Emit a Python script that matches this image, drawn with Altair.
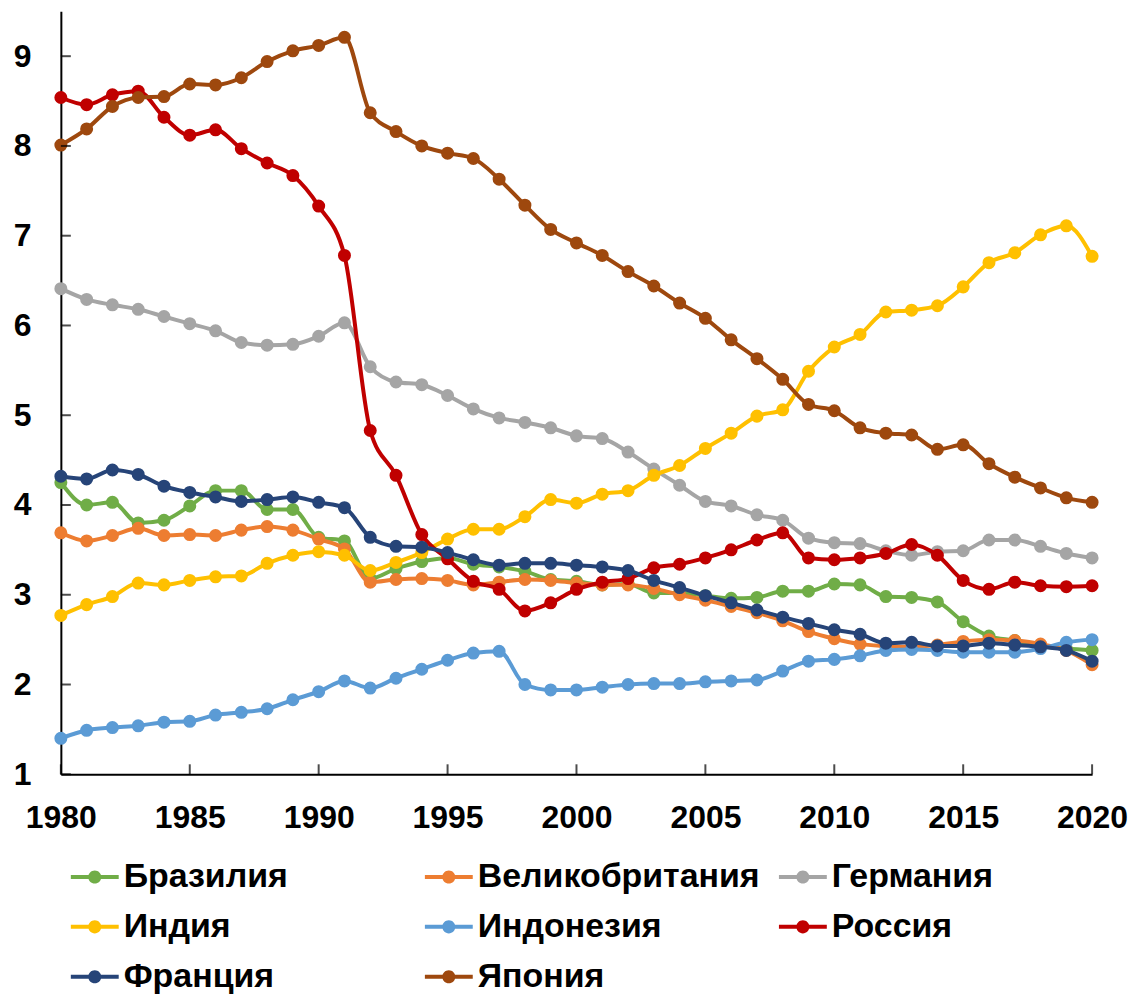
import altair as alt
import pandas as pd

years = list(range(1980, 2021))

series_names = ["Бразилия", "Великобритания", "Германия", "Индия",
                "Индонезия", "Россия", "Франция", "Япония"]
series_colors = ["#70AD47", "#ED7D31", "#A5A5A5", "#FFC000",
                 "#5B9BD5", "#C00000", "#264478", "#9E480E"]

brazil = [4.25, 4.00, 4.03, 3.80, 3.83, 3.99, 4.16, 4.16, 3.95, 3.95,
          3.64, 3.60, 3.18, 3.29, 3.37, 3.41, 3.34, 3.31, 3.26, 3.17,
          3.15, 3.11, 3.12, 3.02, 3.02, 2.99, 2.96, 2.97, 3.04, 3.04,
          3.12, 3.11, 2.98, 2.97, 2.92, 2.70, 2.54, 2.49, 2.43, 2.40, 2.38]
uk = [3.69, 3.60, 3.66, 3.74, 3.66, 3.67, 3.66, 3.72, 3.76, 3.72,
      3.62, 3.51, 3.14, 3.17, 3.18, 3.16, 3.11, 3.14, 3.17, 3.16,
      3.13, 3.11, 3.11, 3.07, 3.00, 2.94, 2.87, 2.80, 2.71, 2.59,
      2.51, 2.45, 2.43, 2.42, 2.44, 2.48, 2.50, 2.49, 2.45, 2.38, 2.22]
germany = [6.41, 6.29, 6.23, 6.18, 6.10, 6.02, 5.94, 5.81, 5.78, 5.79,
           5.88, 6.03, 5.54, 5.37, 5.34, 5.22, 5.07, 4.97, 4.92, 4.86,
           4.77, 4.74, 4.59, 4.40, 4.22, 4.04, 3.99, 3.89, 3.83, 3.63,
           3.58, 3.57, 3.49, 3.44, 3.48, 3.49, 3.61, 3.61, 3.54, 3.46, 3.41]
india = [2.77, 2.89, 2.98, 3.13, 3.11, 3.16, 3.20, 3.21, 3.35, 3.44,
         3.48, 3.44, 3.27, 3.36, 3.47, 3.62, 3.73, 3.73, 3.87, 4.06,
         4.02, 4.12, 4.16, 4.33, 4.44, 4.63, 4.80, 4.99, 5.06, 5.49,
         5.76, 5.90, 6.15, 6.17, 6.22, 6.43, 6.70, 6.81, 7.01, 7.11, 6.77]
indonesia = [1.40, 1.49, 1.52, 1.54, 1.58, 1.59, 1.66, 1.69, 1.73, 1.83,
             1.92, 2.04, 1.96, 2.07, 2.17, 2.27, 2.35, 2.37, 2.00, 1.94,
             1.94, 1.97, 2.00, 2.01, 2.01, 2.03, 2.04, 2.05, 2.15, 2.26,
             2.28, 2.32, 2.38, 2.39, 2.38, 2.36, 2.36, 2.36, 2.40, 2.47, 2.50]
russia = [8.54, 8.46, 8.57, 8.61, 8.32, 8.12, 8.18, 7.97, 7.81, 7.67,
          7.33, 6.78, 4.83, 4.33, 3.67, 3.40, 3.15, 3.06, 2.82, 2.91,
          3.06, 3.14, 3.18, 3.30, 3.34, 3.41, 3.50, 3.61, 3.69, 3.41,
          3.39, 3.41, 3.46, 3.56, 3.44, 3.16, 3.06, 3.14, 3.10, 3.09, 3.10]
france = [4.32, 4.29, 4.39, 4.34, 4.21, 4.14, 4.09, 4.04, 4.06, 4.09,
          4.03, 3.97, 3.64, 3.54, 3.53, 3.47, 3.39, 3.33, 3.35, 3.35,
          3.33, 3.31, 3.27, 3.16, 3.08, 2.99, 2.91, 2.83, 2.75, 2.68,
          2.61, 2.56, 2.46, 2.47, 2.43, 2.43, 2.46, 2.44, 2.42, 2.38, 2.26]
japan = [8.01, 8.19, 8.44, 8.54, 8.55, 8.69, 8.68, 8.76, 8.94, 9.06,
         9.12, 9.21, 8.37, 8.16, 8.00, 7.92, 7.86, 7.63, 7.34, 7.07,
         6.92, 6.78, 6.60, 6.44, 6.25, 6.08, 5.84, 5.63, 5.40, 5.12,
         5.05, 4.86, 4.80, 4.78, 4.62, 4.67, 4.46, 4.31, 4.19, 4.08, 4.03]

x_ticks = [1980, 1985, 1990, 1995, 2000, 2005, 2010, 2015, 2020]
y_ticks = [1, 2, 3, 4, 5, 6, 7, 8, 9]

all_series = [brazil, uk, germany, india, indonesia, russia, france, japan]
rows = []
for name, vals in zip(series_names, all_series):
    for yr, v in zip(years, vals):
        rows.append({"year": yr, "value": v, "country": name})
df = pd.DataFrame(rows)

FONT = "Liberation Sans"

x_scale = alt.Scale(domain=[1980, 2020], nice=False, zero=False)
y_scale = alt.Scale(domain=[1, 9.5], nice=False, zero=False)
x_axis = alt.Axis(values=x_ticks, format="d", title=None, labelPadding=28,
                  labelFlush=False, labelOverlap=False)
y_axis = alt.Axis(values=y_ticks, format="d", title=None, labelPadding=30,
                  labelFlush=False, labelOverlap=False)

legend_symbol = ("M-1.5,-0.125L1.5,-0.125L1.5,0.125L-1.5,0.125Z "
                 "M-0.41,0A0.41,0.41 0 1,1 0.41,0A0.41,0.41 0 1,1 -0.41,0Z")

color_scale = alt.Scale(domain=series_names, range=series_colors)
legend = alt.Legend(
    title=None, orient="none", legendX=17, legendY=851, columns=3,
    direction="horizontal",
    gridAlign="all", symbolType=legend_symbol, symbolSize=1024,
    symbolStrokeWidth=0, symbolOpacity=1, labelFont=FONT,
    labelFontSize=34, labelFontWeight="bold", labelColor="black",
    labelLimit=500, labelOffset=12, rowPadding=16, columnPadding=19,
)

base = alt.Chart(df)
layers = []
for name in series_names:
    sub = base.transform_filter(alt.datum.country == name)
    enc = dict(
        x=alt.X("year:Q", scale=x_scale, axis=x_axis),
        y=alt.Y("value:Q", scale=y_scale, axis=y_axis),
        color=alt.Color("country:N", scale=color_scale, legend=legend),
    )
    layers.append(
        sub.mark_line(interpolate="monotone", strokeWidth=4).encode(**enc)
    )
    layers.append(
        sub.mark_circle(size=170, opacity=1).encode(**enc)
    )

xt = alt.Chart(pd.DataFrame({"t": x_ticks})).mark_tick(
    orient="vertical", size=10, thickness=2, color="black", yOffset=-5
).encode(
    x=alt.X("t:Q", scale=x_scale, axis=x_axis),
    y=alt.datum(1, scale=y_scale),
)
yt = alt.Chart(pd.DataFrame({"v": y_ticks})).mark_tick(
    orient="horizontal", size=10, thickness=2, color="black", xOffset=5
).encode(
    x=alt.datum(1980, scale=x_scale),
    y=alt.Y("v:Q", scale=y_scale, axis=y_axis),
)

chart = alt.layer(*layers, xt, yt).properties(
    width=1034, height=765,
    padding={"left": 5, "top": 2, "right": 0, "bottom": 0},
).configure_view(strokeWidth=0).configure_axis(
    labelFont=FONT, labelFontSize=32, labelFontWeight="bold",
    labelColor="black", domainColor="black", domainWidth=2,
    ticks=False, grid=False,
)

chart.save("out.html", embed_options={"renderer": "svg", "actions": False})
